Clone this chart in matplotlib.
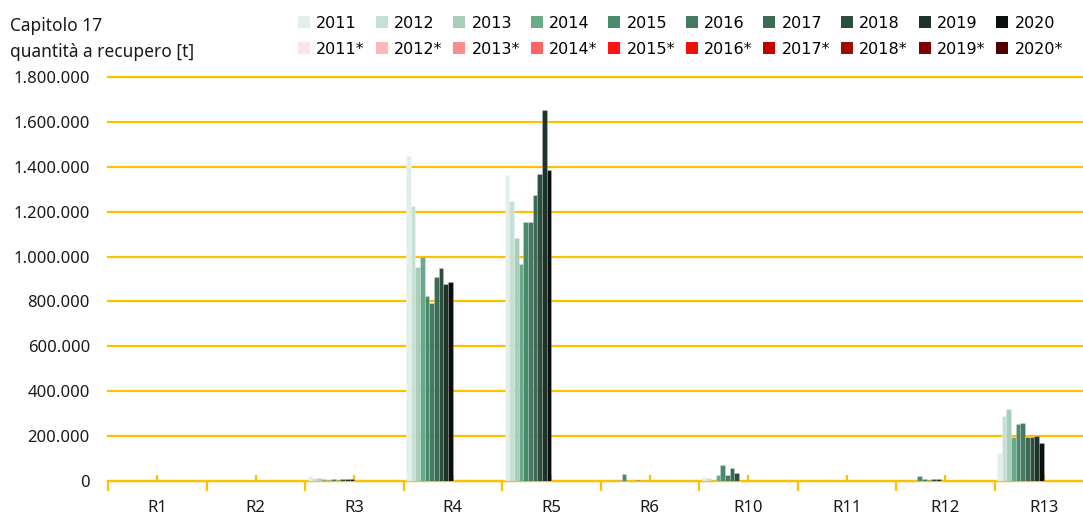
import numpy as np
import matplotlib
matplotlib.use("Agg")
import matplotlib.pyplot as plt
from matplotlib.patches import Patch
from matplotlib.ticker import FixedLocator, FuncFormatter

# Recovery operations (x axis)
categories = ["R1", "R2", "R3", "R4", "R5", "R6", "R10", "R11", "R12", "R13"]
years = ["2011", "2012", "2013", "2014", "2015", "2016", "2017", "2018", "2019", "2020"]

# Quantities sent to recovery [t], one list per year, in the order of `categories`
q2011 = [0, 0, 22000, 1449000, 1364000, 1000, 19000, 0, 1000, 125000]
q2012 = [0, 0, 15000, 1224000, 1249000, 1000, 13000, 0, 1000, 290000]
q2013 = [0, 0, 12000, 953000, 1081000, 1000, 2000, 0, 1000, 322000]
q2014 = [0, 0, 7000, 1000000, 966000, 6000, 28000, 0, 2000, 197000]
q2015 = [0, 0, 4000, 824000, 1153000, 33000, 73000, 0, 21000, 253000]
q2016 = [0, 0, 7000, 794000, 1155000, 1000, 28000, 0, 7000, 259000]
q2017 = [0, 0, 4000, 907000, 1273000, 1000, 59000, 0, 3000, 196000]
q2018 = [0, 0, 9000, 947000, 1366000, 3000, 37000, 0, 9000, 196000]
q2019 = [0, 0, 9000, 876000, 1655000, 2000, 2000, 0, 7000, 200000]
q2020 = [0, 0, 9000, 888000, 1384000, 1000, 1000, 0, 2000, 168000]

# Starred series (years marked with *), all empty for this chapter
s2011 = [0, 0, 0, 0, 0, 0, 0, 0, 0, 0]
s2012 = [0, 0, 0, 0, 0, 0, 0, 0, 0, 0]
s2013 = [0, 0, 0, 0, 0, 0, 0, 0, 0, 0]
s2014 = [0, 0, 0, 0, 0, 0, 0, 0, 0, 0]
s2015 = [0, 0, 0, 0, 0, 0, 0, 0, 0, 0]
s2016 = [0, 0, 0, 0, 0, 0, 0, 0, 0, 0]
s2017 = [0, 0, 0, 0, 0, 0, 0, 0, 0, 0]
s2018 = [0, 0, 0, 0, 0, 0, 0, 0, 0, 0]
s2019 = [0, 0, 0, 0, 0, 0, 0, 0, 0, 0]
s2020 = [0, 0, 0, 0, 0, 0, 0, 0, 0, 0]

main_series = [q2011, q2012, q2013, q2014, q2015, q2016, q2017, q2018, q2019, q2020]
star_series = [s2011, s2012, s2013, s2014, s2015, s2016, s2017, s2018, s2019, s2020]

green = ["#e2efe9", "#c5e0d4", "#a8cdbb", "#6aaa8a", "#4a8a6c", "#467a62", "#3c6a54",
         "#2c4e3d", "#1f3329", "#0a100d"]
red = ["#fce4e4", "#ffb6b6", "#ff8c8c", "#ff6464", "#ff1414", "#eb0f05", "#c00000",
       "#a00a00", "#800000", "#500000"]

GOLD = "#ffc000"
TEXT = "#1a1a1a"
FONT = "Noto Sans"

W, H, DPI = 1083, 515, 100
fig = plt.figure(figsize=(W / DPI, H / DPI), dpi=DPI)
fig.patch.set_facecolor("white")

x0, x1 = 108, 1093
y0, y1 = 481, 77
ax = fig.add_axes([x0 / W, 1 - y0 / H, (x1 - x0) / W, (y0 - y1) / H])

n_series = len(main_series) + len(star_series)
group = 0.946
bw = group / n_series
centers = np.arange(len(categories)) + 0.5

all_series = main_series + star_series
all_colors = green + red
for i, (vals, col) in enumerate(zip(all_series, all_colors)):
    xs = centers - group / 2 + bw * (i + 0.5)
    ax.bar(xs, vals, width=bw, color=col, edgecolor=(1, 1, 1, 0.35),
           linewidth=0.4, zorder=3)

ax.set_xlim(0, len(categories))
ax.set_ylim(0, 1800000)

# y axis: thousands separated with dots
ax.yaxis.set_major_locator(FixedLocator(np.arange(0, 1800001, 200000)))
ax.yaxis.set_major_formatter(FuncFormatter(lambda v, p: f"{int(v):,}".replace(",", ".")))
ax.tick_params(axis="y", length=0, pad=13, labelsize=12, labelcolor=TEXT)
ax.grid(axis="y", color=GOLD, linewidth=1.6, zorder=0)
ax.set_axisbelow(True)
for gl in ax.get_ygridlines():
    gl.set_clip_on(False)

# x axis: labels at category centres, separators at the boundaries
ax.xaxis.set_major_locator(FixedLocator(centers))
ax.set_xticklabels(categories)
ax.xaxis.set_minor_locator(FixedLocator(np.arange(0, len(categories) + 1)))
ax.tick_params(axis="x", which="major", direction="in", length=4, width=1.6,
               color=GOLD, pad=14, labelsize=12, labelcolor=TEXT)
ax.tick_params(axis="x", which="minor", direction="out", length=7, width=1.6, color=GOLD)

for side in ("top", "right", "left"):
    ax.spines[side].set_visible(False)
ax.spines["bottom"].set_color(GOLD)
ax.spines["bottom"].set_linewidth(1.6)

for lab in ax.get_xticklabels() + ax.get_yticklabels():
    lab.set_fontfamily(FONT)

# Title in the upper-left corner
fig.text(10 / W, 1 - 31 / H, "Capitolo 17", fontsize=12.5, family=FONT,
         color=TEXT, va="baseline", ha="left")
fig.text(10 / W, 1 - 57 / H, "quantità a recupero [t]", fontsize=12.5, family=FONT,
         color=TEXT, va="baseline", ha="left")

# Legend: green years on the first row, starred years on the second
handles, labels = [], []
for y, g, r in zip(years, green, red):
    handles += [Patch(facecolor=g, edgecolor="none"), Patch(facecolor=r, edgecolor="none")]
    labels += [y, y + "*"]
fig.legend(handles, labels, ncol=10, loc="upper left",
           bbox_to_anchor=(298 / W, 1 - 15.5 / H), frameon=False,
           prop={"family": "DejaVu Sans", "size": 11.5},
           handlelength=0.75, handleheight=0.75, handletextpad=0.4,
           columnspacing=0.67, labelspacing=0.7, borderpad=0, borderaxespad=0)

fig.savefig("out.png", dpi=DPI)
